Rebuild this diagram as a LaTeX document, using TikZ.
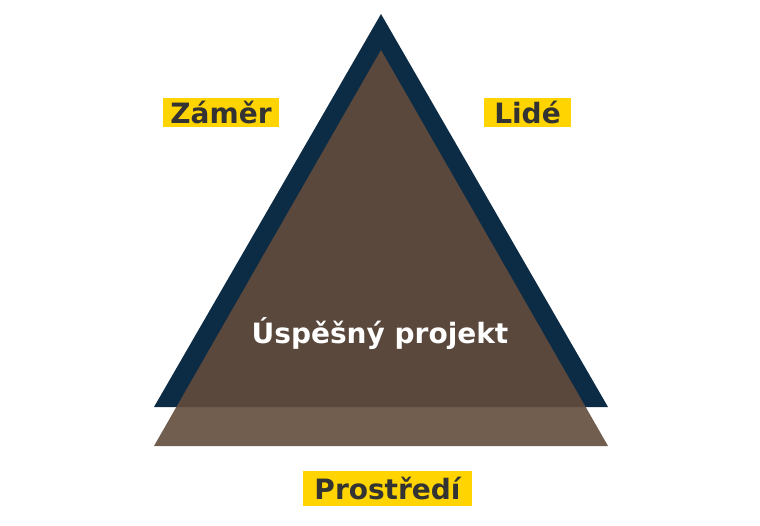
\documentclass[tikz,border=0pt]{standalone}
\usepackage{fontspec}
\setmainfont{DejaVu Sans}
\definecolor{navy}{HTML}{0C2B45}
\definecolor{earth}{HTML}{634C3C}
\definecolor{tag}{HTML}{FFD400}
\definecolor{ink}{HTML}{333333}
\begin{document}
\begin{tikzpicture}[x=1pt,y=-1pt,
  label/.style={fill=tag, text=ink, font=\fontsize{28}{32}\selectfont\bfseries, inner xsep=7.5pt, inner ysep=0pt, minimum height=29pt}]
\useasboundingbox (0,0) rectangle (760,525);
\coordinate (top) at (381,14);
\coordinate (left) at (154,407);
\coordinate (right) at (608,407);
\coordinate (ptop) at (381,50);
\coordinate (pleft) at (154,446);
\coordinate (pright) at (608,446);
\path[fill=navy] (top) -- (left) -- (right) -- cycle;
\path[fill=earth, fill opacity=0.9] (ptop) -- (pleft) -- (pright) -- cycle;
\node[text=white, font=\fontsize{28}{32}\selectfont\bfseries] (goal) at (380,334) {Úspěšný projekt};
\node[label] (a) at (221,112.5) {Záměr};
\node[label, minimum width=87pt] (b) at (527.5,112.5) {Lidé};
\node[label, minimum width=169pt, minimum height=35pt] (c) at (387.5,488.5) {Prostředí};
\end{tikzpicture}
\end{document}
